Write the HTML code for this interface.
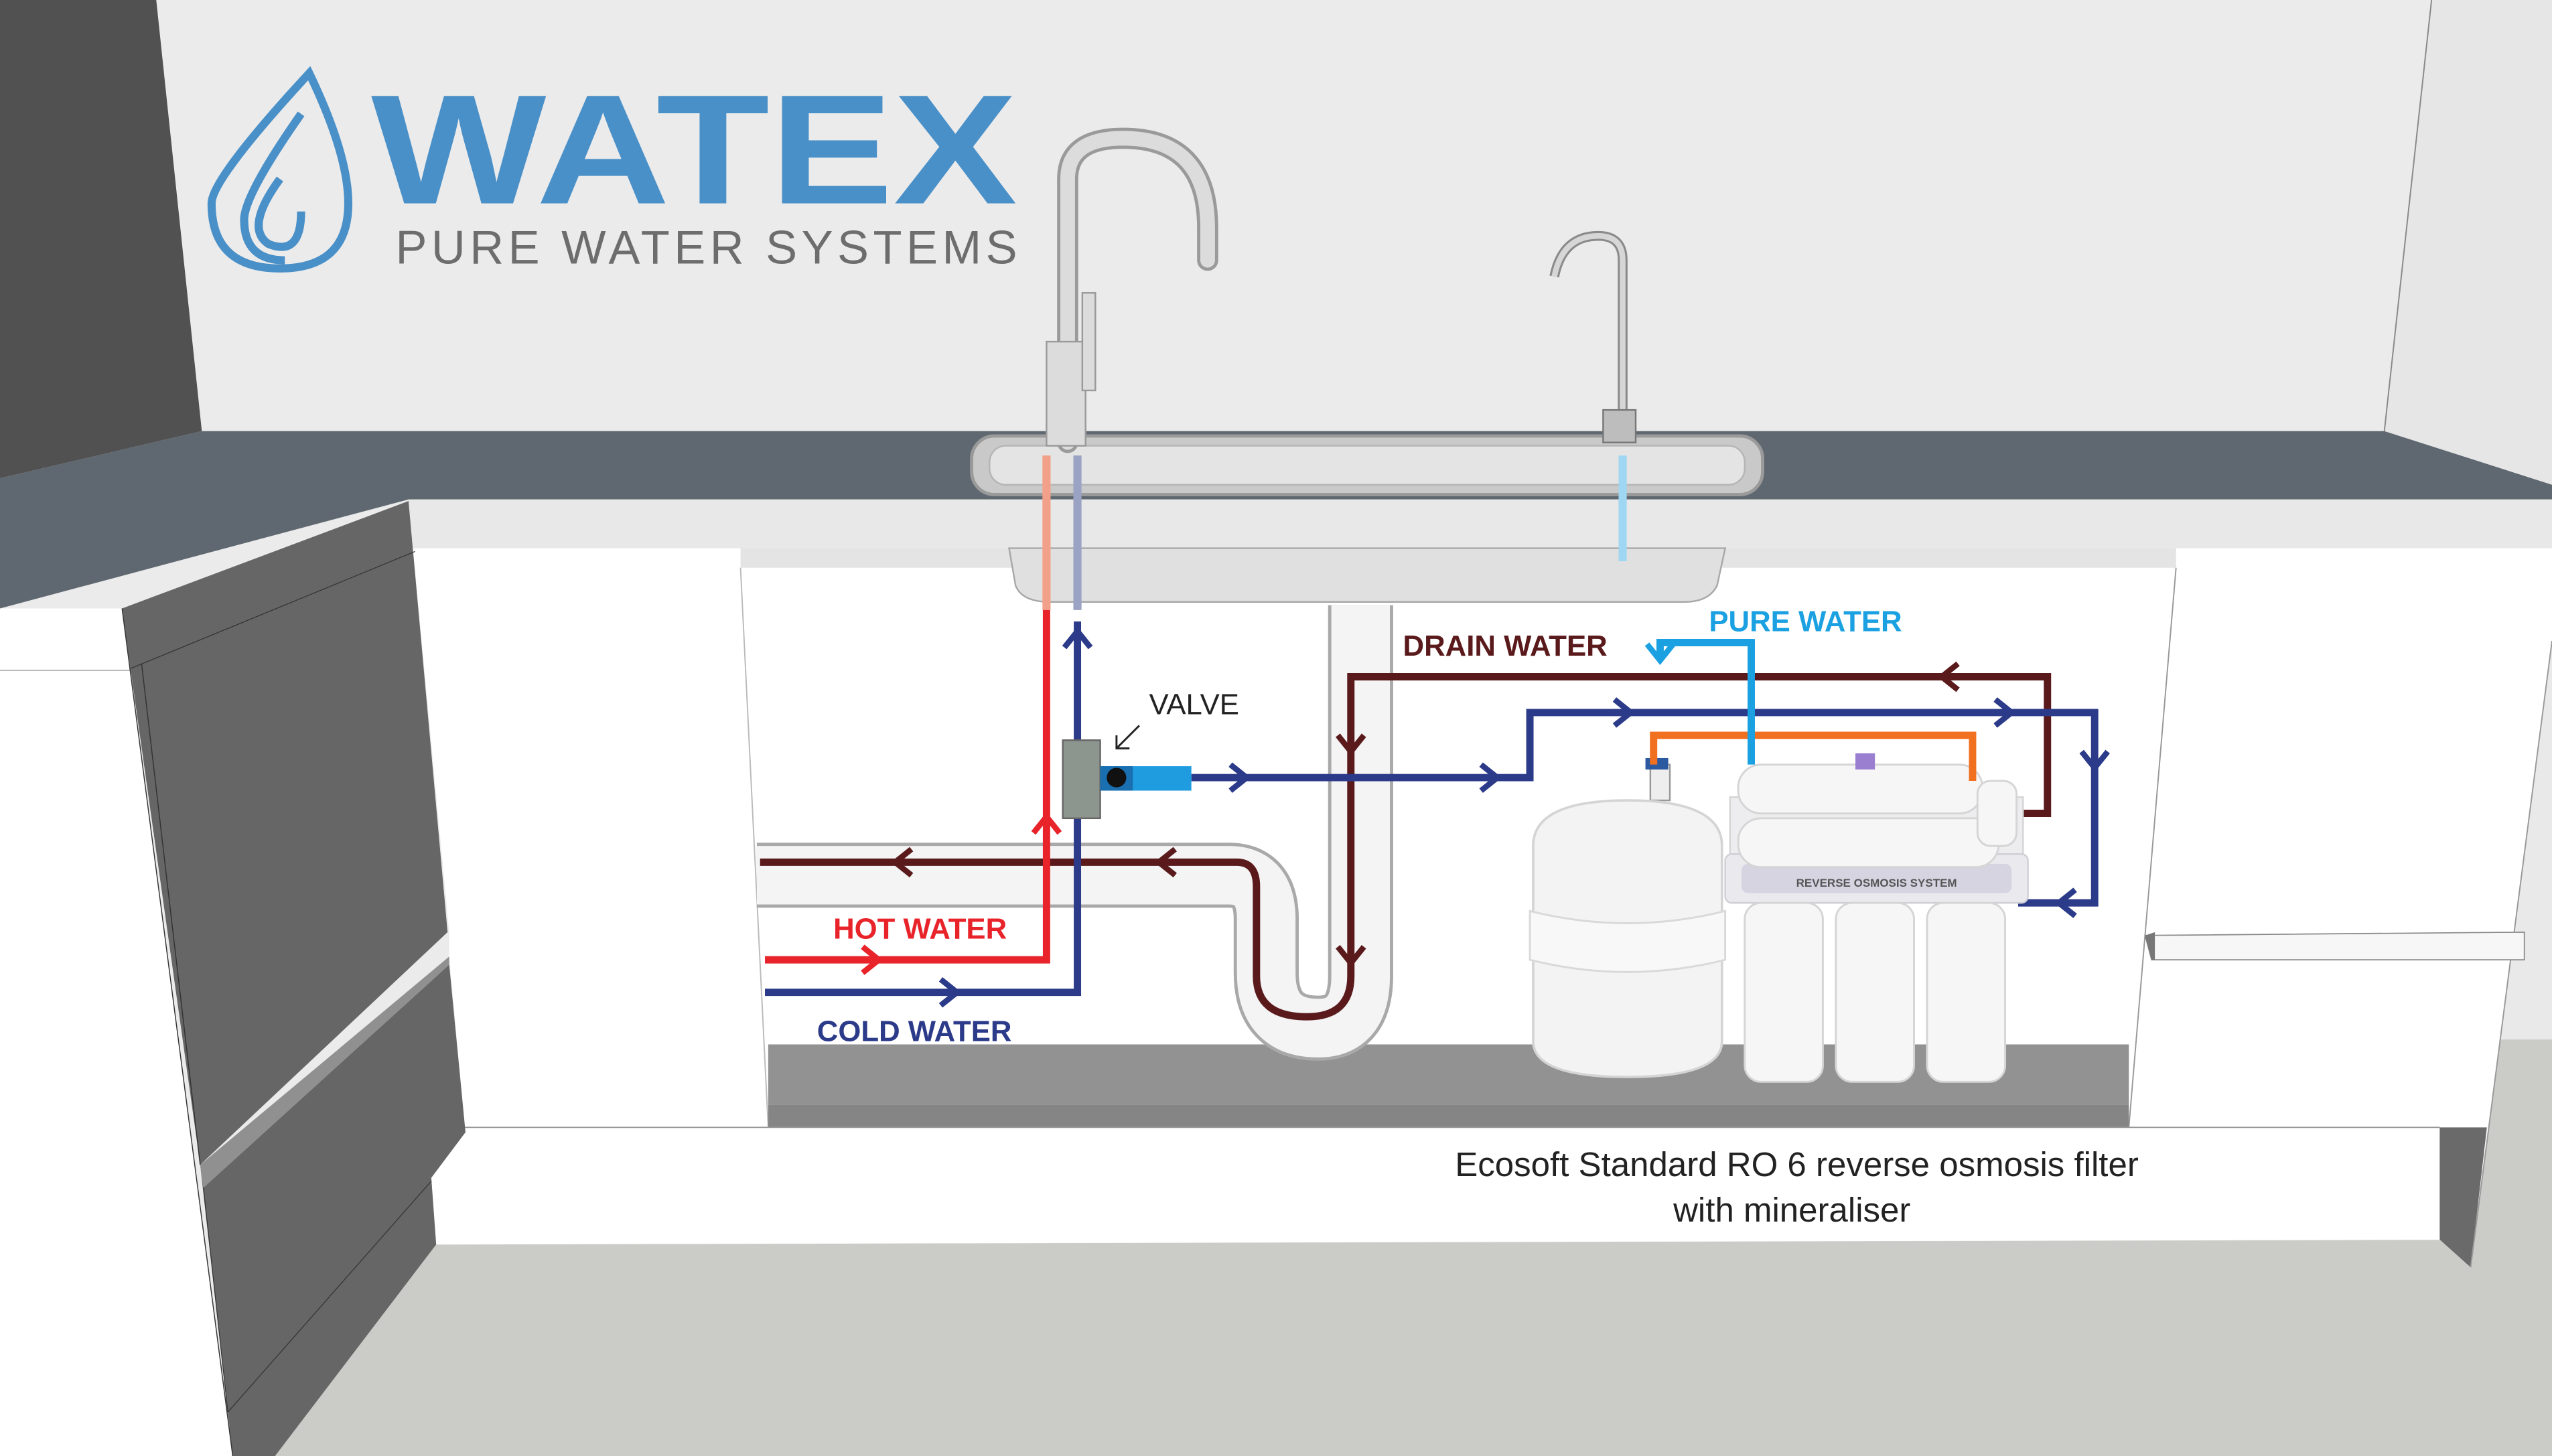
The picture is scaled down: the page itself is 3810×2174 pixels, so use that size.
<!DOCTYPE html>
<html><head><meta charset="utf-8"><style>
html,body{margin:0;padding:0;background:#fff;}
svg{display:block;}
text{font-family:"Liberation Sans",sans-serif;}
</style></head><body>
<svg width="3810" height="2174" viewBox="0 0 1568 895" preserveAspectRatio="none" xmlns="http://www.w3.org/2000/svg">
<rect x="0" y="0" width="1568" height="895" fill="#ebebeb"/>
<polygon points="1494,0 1568,0 1568,298 1465,265" fill="#e6e6e6"/>
<line x1="1494" y1="0" x2="1465" y2="265" stroke="#888" stroke-width="0.8"/>
<polygon points="0,0 96,0 124,265 0,294" fill="#515151"/>
<polygon points="0,294 124,265 1465,265 1568,298 1568,307 251,307 0,374" fill="#5f6870"/>
<rect x="251" y="307" width="1317" height="30" fill="#e8e8e8"/>
<polygon points="0,374 75,374 143,895 0,895" fill="#ffffff"/>
<line x1="0" y1="412" x2="80" y2="412" stroke="#999" stroke-width="0.6"/>
<polygon points="169,895 268,765 1568,762 1568,895" fill="#cbccc8"/>
<!-- right side beyond cabinet -->
<polygon points="1568,394 1568,639 1536,639" fill="#e9e9e9"/>
<polygon points="1536,639 1568,639 1568,895 1518,895 1518,779" fill="#cbccc8"/>
<!-- cabinet front white -->
<polygon points="251,337 1568,337 1568,394 1518,779 1499,762 268,765 265,724 286,696 276,588 276,573 251,308" fill="#ffffff"/>
<!-- interior -->
<polygon points="455,337 1337,337 1334,349 1308,693 472,693 472,349 455,349" fill="#ffffff"/>
<rect x="455" y="337" width="882" height="12" fill="#e4e4e4"/>
<line x1="1337" y1="349" x2="1308" y2="693" stroke="#999" stroke-width="0.8"/>
<line x1="455" y1="349" x2="472" y2="693" stroke="#bbb" stroke-width="0.8"/>
<rect x="472" y="642" width="836" height="37" fill="#929292"/>
<rect x="472" y="679" width="836" height="14" fill="#858585"/>
<line x1="265" y1="693" x2="1499" y2="693" stroke="#999" stroke-width="0.8"/>
<polygon points="1499,693 1528,693 1518,779 1499,762" fill="#6a6a6a"/>
<line x1="1568" y1="394" x2="1518" y2="779" stroke="#999" stroke-width="0.8"/>
<polygon points="1318,575 1551,573 1551,590 1322,590" fill="#f7f7f7" stroke="#888" stroke-width="0.7"/>
<polygon points="1318,575 1324,573 1324,590 1322,590" fill="#777"/>
<!-- left dark cabinet -->
<polygon points="75,374 251,308 275,573 123,716 143,895 169,895 268,765 265,724 286,696 276,593 125,730" fill="#666666"/>
<polygon points="123,716 276,588 276,593 125,730" fill="#909090"/>
<line x1="75" y1="374" x2="143" y2="895" stroke="#333" stroke-width="0.6"/>
<line x1="87" y1="408" x2="123" y2="716" stroke="#333" stroke-width="0.6"/>
<line x1="80" y1="411" x2="255" y2="339" stroke="#333" stroke-width="0.5"/>
<line x1="125" y1="730" x2="140" y2="868" stroke="#333" stroke-width="0.5"/>
<line x1="140" y1="868" x2="265" y2="726" stroke="#333" stroke-width="0.5"/>
<!-- sink -->
<rect x="597" y="268" width="486" height="36" rx="14" fill="#c9c9c9" stroke="#9a9a9a" stroke-width="2"/>
<rect x="608" y="274" width="464" height="24" rx="10" fill="#e4e4e4" stroke="#b5b5b5"/>
<path d="M620,337 L1060,337 L1055,360 Q1050,370 1035,370 L645,370 Q628,370 624,360 Z" fill="#e0e0e0" stroke="#a8a8a8"/>
<path d="M656,272 L656,110 Q656,85 690,85 Q742,85 742,140 L742,160" fill="none" stroke="#9a9a9a" stroke-width="13" stroke-linecap="round"/>
<path d="M656,272 L656,110 Q656,85 690,85 Q742,85 742,140 L742,160" fill="none" stroke="#dcdcdc" stroke-width="9" stroke-linecap="round"/>
<rect x="643" y="210" width="24" height="64" fill="#dcdcdc" stroke="#9a9a9a"/>
<rect x="665" y="180" width="8" height="60" fill="#dcdcdc" stroke="#9a9a9a"/>
<path d="M997,272 L997,160 Q997,145 982,145 Q960,145 955,170" fill="none" stroke="#8a8a8a" stroke-width="6"/>
<path d="M997,272 L997,160 Q997,145 982,145 Q960,145 955,170" fill="none" stroke="#d6d6d6" stroke-width="3.5"/>
<rect x="985" y="252" width="20" height="20" fill="#bdbdbd" stroke="#777"/>
<line x1="643" y1="280" x2="643" y2="375" stroke="#f3a08a" stroke-width="5"/>
<line x1="662" y1="280" x2="662" y2="375" stroke="#9aa3c3" stroke-width="5"/>
<line x1="997" y1="280" x2="997" y2="345" stroke="#9fd6f2" stroke-width="5"/>
<g fill="none" stroke-linejoin="round">
<path d="M465,538 H755 Q778,538 778,565 V598 Q778,632 810,632 Q836,632 836,600 V372" stroke="#a9a9a9" stroke-width="40"/>
<path d="M465,538 H755 Q778,538 778,565 V598 Q778,632 810,632 Q836,632 836,600 V372" stroke="#f4f4f4" stroke-width="36"/>
</g>
<path d="M467,530 H760 Q772,530 772,545 V600 Q772,625 803,625 Q830,625 830,600 V416 H1258 V500 H1232" fill="none" stroke="#5a1a1c" stroke-width="4.5"/>
<g fill="none" stroke="#5a1a1c" stroke-width="3.5">
<polyline points="560,522 550,530 560,538"/>
<polyline points="722,522 712,530 722,538"/>
<polyline points="822,452 830,462 838,452"/>
<polyline points="822,582 830,592 838,582"/>
<polyline points="1203,408 1193,416 1203,424"/>
</g>
<g fill="none" stroke="#2b3a89" stroke-width="4.5">
<path d="M470,610 H662 V382"/>
<path d="M732,478 H940 V438 H1287 V555 H1240"/>
</g>
<g fill="none" stroke="#2b3a89" stroke-width="3.5">
<polyline points="578,602 588,610 578,618"/>
<polyline points="654,398 662,388 670,398"/>
<polyline points="756,470 766,478 756,486"/>
<polyline points="910,470 920,478 910,486"/>
<polyline points="992,430 1002,438 992,446"/>
<polyline points="1226,430 1236,438 1226,446"/>
<polyline points="1279,462 1287,472 1295,462"/>
<polyline points="1275,547 1265,555 1275,563"/>
</g>
<path d="M470,590 H643 V375" fill="none" stroke="#e8232a" stroke-width="4.5"/>
<g fill="none" stroke="#e8232a" stroke-width="3.5">
<polyline points="530,582 540,590 530,598"/>
<polyline points="635,512 643,502 651,512"/>
</g>
<rect x="653" y="455" width="23" height="48" fill="#8d958f" stroke="#666"/>
<rect x="676" y="471" width="56" height="15" fill="#1f9be0"/>
<rect x="676" y="471" width="20" height="15" fill="#1a6fb0"/>
<circle cx="686" cy="478" r="6" fill="#111"/>
<line x1="700" y1="446" x2="686" y2="460" stroke="#222" stroke-width="1.2"/>
<polyline points="686,452 686,460 694,460" fill="none" stroke="#222" stroke-width="1.2"/>
<rect x="1014" y="470" width="12" height="22" fill="#eee" stroke="#999"/>
<rect x="1011" y="466" width="14" height="7" fill="#2c5aa0"/>
<path d="M942,520 Q942,492 1000,492 Q1058,492 1058,520 L1058,640 Q1058,662 1000,662 Q942,662 942,640 Z" fill="#f3f3f3" stroke="#d4d4d4" stroke-width="1.5"/>
<path d="M940,560 Q1000,575 1060,560 L1060,590 Q1000,605 940,590 Z" fill="#f8f8f8" stroke="#d9d9d9" stroke-width="1.2"/>
<rect x="1063" y="490" width="180" height="40" fill="#ededf0" stroke="#d5d5d5"/>
<rect x="1060" y="525" width="186" height="30" rx="4" fill="#eaeaee" stroke="#cfcfd6"/>
<rect x="1070" y="531" width="166" height="18" rx="4" fill="#d7d4e2"/>
<text x="1153" y="545" font-size="7" fill="#555" text-anchor="middle" font-weight="bold">REVERSE OSMOSIS SYSTEM</text>
<g fill="#f6f6f6" stroke="#d5d5d5" stroke-width="1.2">
<rect x="1072" y="555" width="48" height="110" rx="10"/>
<rect x="1128" y="555" width="48" height="110" rx="10"/>
<rect x="1184" y="555" width="48" height="110" rx="10"/>
<rect x="1068" y="470" width="150" height="30" rx="14"/>
<rect x="1068" y="503" width="160" height="30" rx="14"/>
<rect x="1215" y="480" width="24" height="40" rx="8"/>
</g>
<rect x="1140" y="463" width="12" height="10" fill="#9a7fd0"/>
<path d="M1016,470 V452 H1212 V480" fill="none" stroke="#f07020" stroke-width="4.5"/>
<path d="M1076,470 V395 H1020 V404" fill="none" stroke="#1ba1e2" stroke-width="4.5"/>
<polyline points="1012,396 1020,406 1028,396" fill="none" stroke="#1ba1e2" stroke-width="3.5"/>
<text x="862" y="403" font-size="18" font-weight="bold" fill="#5a1a1c">DRAIN WATER</text>
<text x="1050" y="388" font-size="18" font-weight="bold" fill="#1ba1e2">PURE WATER</text>
<text x="706" y="439" font-size="18" fill="#222">VALVE</text>
<text x="512" y="577" font-size="18" font-weight="bold" fill="#e8232a">HOT WATER</text>
<text x="502" y="640" font-size="18" font-weight="bold" fill="#2b3a89">COLD WATER</text>
<text x="1104" y="723" font-size="21" fill="#222" text-anchor="middle">Ecosoft Standard RO 6 reverse osmosis filter</text>
<text x="1101" y="751" font-size="21" fill="#222" text-anchor="middle">with mineraliser</text>
<g fill="none" stroke="#4a90c8" stroke-width="5">
<path d="M190,45 Q130,110 130,125 Q130,165 172,165 Q214,165 214,125 Q214,95 190,45 Z"/>
<path d="M185,70 Q150,120 150,135 Q150,160 175,160"/>
<path d="M172,110 Q150,140 165,150 Q185,158 185,130"/>
</g>
<text x="228" y="125" font-size="96" font-weight="bold" fill="#4a90c8" textLength="397" lengthAdjust="spacingAndGlyphs">WATEX</text>
<text x="243" y="162" font-size="29" fill="#6d6d6d" textLength="382" lengthAdjust="spacing">PURE WATER SYSTEMS</text>
</svg>
</body></html>
